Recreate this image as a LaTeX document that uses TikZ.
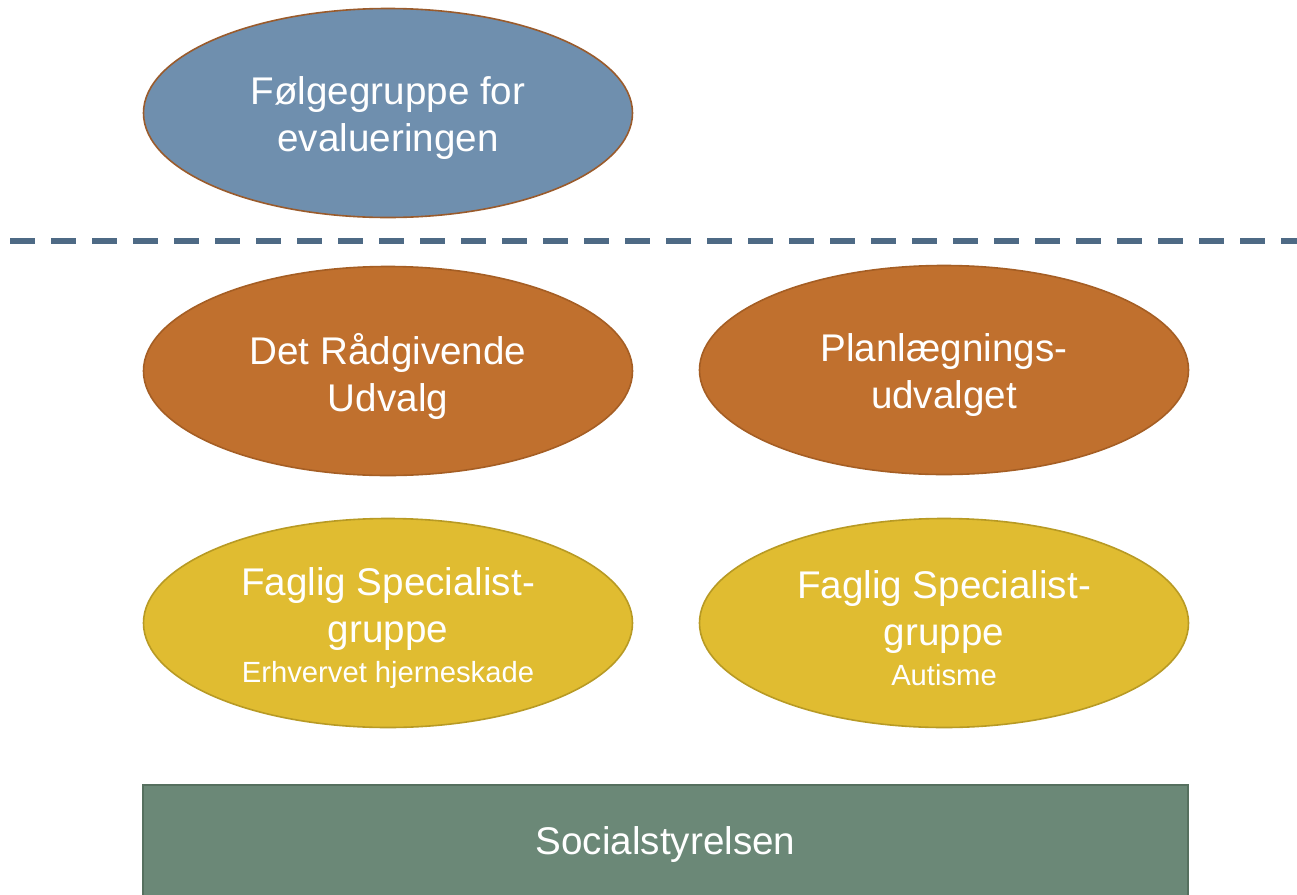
\documentclass[tikz,border=0pt]{standalone}
\usepackage{fontspec}
\setmainfont{Liberation Sans}
\usepackage{tikz}
\usetikzlibrary{shapes.geometric}
\definecolor{evalblue}{HTML}{6F8FAE}
\definecolor{evalline}{HTML}{9A5B2C}
\definecolor{udvorange}{HTML}{C0702E}
\definecolor{udvline}{HTML}{A55E24}
\definecolor{faggul}{HTML}{E0BC31}
\definecolor{fagline}{HTML}{B89A24}
\definecolor{stgreen}{HTML}{6B8877}
\definecolor{stline}{HTML}{56705F}
\definecolor{skille}{HTML}{4E6A85}
\tikzset{
  grp/.style={ellipse, minimum width=244.5pt, minimum height=104.5pt, inner sep=0pt,
    line width=0.8pt},
  grptxt/.style={text=white, align=center, yshift=-2.5pt, font=\fontsize{19.3}{23.5}\selectfont}
}
\newcommand{\smalltxt}[1]{{\fontsize{14.6}{17}\selectfont #1}}

\begin{document}
\begin{tikzpicture}[x=0.5pt, y=-0.5pt]
\useasboundingbox (0,0) rectangle (1297,895);
\clip (0,0) rectangle (1297,895);
\fill [white] (0,0) rectangle (1297,895);
\node [grp, draw=evalline, fill=evalblue, label={[grptxt]center:{Følgegruppe for\\evalueringen}}] (folg) at (388,113) {};
\coordinate (sl) at (10,241);
\coordinate (sr) at (1297,241);
\draw [skille, line width=2.6pt, dash pattern=on 12.5pt off 8pt] (sl) -- (sr);
\node [grp, draw=udvline, fill=udvorange, label={[grptxt]center:{Det Rådgivende\\Udvalg}}] (raad) at (388,371) {};
\node [grp, draw=udvline, fill=udvorange, label={[grptxt]center:{Planlægnings-\\udvalget}}] (plan) at (944,370) {};
\node [grp, draw=fagline, fill=faggul, label={[grptxt]center:{Faglig Specialist-\\gruppe\\[-3.5pt]\smalltxt{Erhvervet hjerneskade}}}] (fsg1) at (388,623) {};
\node [grp, draw=fagline, fill=faggul, label={[grptxt]center:{Faglig Specialist-\\gruppe\\[-3.5pt]\smalltxt{Autisme}}}] (fsg2) at (944,623) {};
\node [rectangle, draw=stline, fill=stgreen, line width=0.8pt, text=white,
  minimum width=522.5pt, minimum height=60pt, font=\fontsize{19.3}{23.5}\selectfont] (soc) at (665.5,845) {Socialstyrelsen};
\end{tikzpicture}
\end{document}
